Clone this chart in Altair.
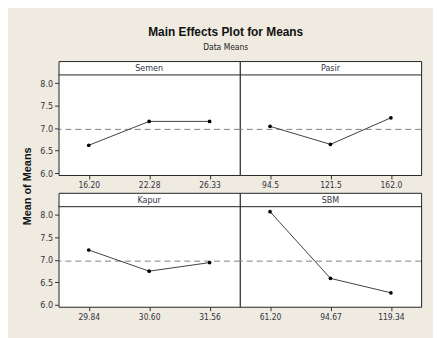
import altair as alt
import pandas as pd

factors = ["Semen", "Pasir", "Kapur", "SBM"]
semen_levels = ["16.20", "22.28", "26.33"]
semen_means = [6.62, 7.15, 7.15]
pasir_levels = ["94.5", "121.5", "162.0"]
pasir_means = [7.04, 6.64, 7.23]
kapur_levels = ["29.84", "30.60", "31.56"]
kapur_means = [7.22, 6.75, 6.94]
sbm_levels = ["61.20", "94.67", "119.34"]
sbm_means = [8.07, 6.59, 6.27]
y_ticks = [6.0, 6.5, 7.0, 7.5, 8.0]

all_means = semen_means + pasir_means + kapur_means + sbm_means
grand_mean = sum(all_means) / len(all_means)

FONT = "Liberation Sans Narrow, DejaVu Sans Condensed, sans-serif"
BOLD = "Liberation Sans, sans-serif"
TXT = "#333344"
W = 183
H = 115
STRIP = 14
ydom = [5.96, 8.49]


def panel(name, levels, means, show_y, ytitle=False):
    df = pd.DataFrame({"level": levels, "mean": means})
    yscale = alt.Scale(domain=ydom, nice=False, zero=False)
    xenc = alt.X(
        "level:N",
        sort=levels,
        scale=alt.Scale(type="point", padding=0.5),
        axis=alt.Axis(title=None, labelAngle=0, tickSize=4, labelPadding=2,
                      labelFont=FONT, labelFontSize=8.5, labelColor=TXT,
                      tickColor="#333333", domain=False, grid=False),
    )
    if show_y:
        yaxis = alt.Axis(values=y_ticks, format=".1f", tickSize=4, labelPadding=2,
                         labelFont=FONT, labelFontSize=9, labelColor=TXT,
                         tickColor="#333333", domain=False, grid=False,
                         title="Mean of Means" if ytitle else None,
                         titleFont=BOLD, titleFontSize=11, titleFontWeight="bold",
                         titleColor="#111111", titleX=-31, titleY=126,
                         titleAngle=270, titleBaseline="middle", titleAlign="center")
    else:
        yaxis = None
    yenc = alt.Y("mean:Q", scale=yscale, axis=yaxis)
    line = alt.Chart(df).mark_line(color="#404040", strokeWidth=1).encode(x=xenc, y=yenc)
    pts = alt.Chart(df).mark_circle(color="#000000", size=14, opacity=1).encode(x=xenc, y=yenc)
    ref = alt.Chart(pd.DataFrame({"gm": [grand_mean]})).mark_rule(
        color="#808080", strokeDash=[6, 4], strokeWidth=1
    ).encode(y=alt.Y("gm:Q", scale=yscale, axis=yaxis))
    hdr = pd.DataFrame({"factor": [name]})
    strip_line = alt.Chart(hdr).mark_rule(color="#222222", strokeWidth=1).encode(
        x=alt.value(0), x2=alt.value(W), y=alt.value(STRIP)
    )
    strip_txt = alt.Chart(hdr).mark_text(font=FONT, fontSize=9, color=TXT, baseline="middle").encode(
        text="factor:N", x=alt.value(W / 2), y=alt.value(STRIP / 2)
    )
    return alt.layer(ref, line, pts, strip_line, strip_txt).properties(width=W, height=H)


chart = alt.concat(
    panel(factors[0], semen_levels, semen_means, True, True),
    panel(factors[1], pasir_levels, pasir_means, False),
    panel(factors[2], kapur_levels, kapur_means, True),
    panel(factors[3], sbm_levels, sbm_means, False),
    columns=2,
    spacing={"row": 18, "column": 0},
    bounds="flush",
).properties(
    title=alt.TitleParams(
        "Main Effects Plot for Means",
        subtitle="Data Means",
        font=BOLD, fontSize=12, fontWeight="bold", color="#111111",
        subtitleFont=FONT, subtitleFontSize=8.5, subtitleColor="#222222",
        subtitlePadding=4, offset=8, anchor="middle", dx=4,
    ),
    background="#efebe1",
    padding={"left": 13, "top": 17, "right": 11, "bottom": 15},
).configure_view(stroke="#222222", strokeWidth=1, fill="white")

chart.save("out.html", embed_options={"renderer": "svg", "actions": False})
